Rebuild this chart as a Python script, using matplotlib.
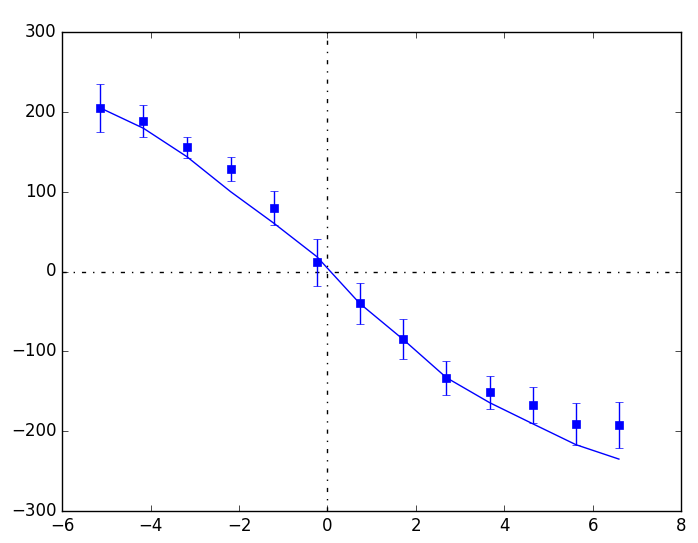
import matplotlib
matplotlib.use("Agg")
import matplotlib.pyplot as plt

plt.style.use('classic')

x = [-5.14, -4.16, -3.18, -2.19, -1.21, -0.24, 0.73, 1.71, 2.69, 3.67, 4.64, 5.62, 6.59]
y = [205, 188.6, 155.6, 128, 79.6, 11.5, -39.8, -85, -133.5, -151.4, -167.7, -191, -192.8]
yerr = [29.7, 20.5, 13, 15, 21.8, 29.5, 26, 25, 21, 20.7, 22.7, 26, 28.8]
y_fit = [205, 179.4, 143.9, 100, 60.4, 18.6, -40, -85, -133, -164.4, -190.7, -217, -235]

fig = plt.figure(figsize=(6.98, 5.43), dpi=100)
ax = fig.add_subplot(111)
fig.subplots_adjust(left=0.089, right=0.976, top=0.941, bottom=0.059)

ax.axhline(0, color='k', linestyle='-.')
ax.axvline(0, color='k', linestyle='-.')
ax.errorbar(x, y, yerr=yerr, fmt='s', color='b', mec='b', ecolor='b', capsize=3)
ax.plot(x, y_fit, 'b-')

ax.set_xlim(-6, 8)
ax.set_ylim(-300, 300)

fig.savefig('out.png', dpi=100)
